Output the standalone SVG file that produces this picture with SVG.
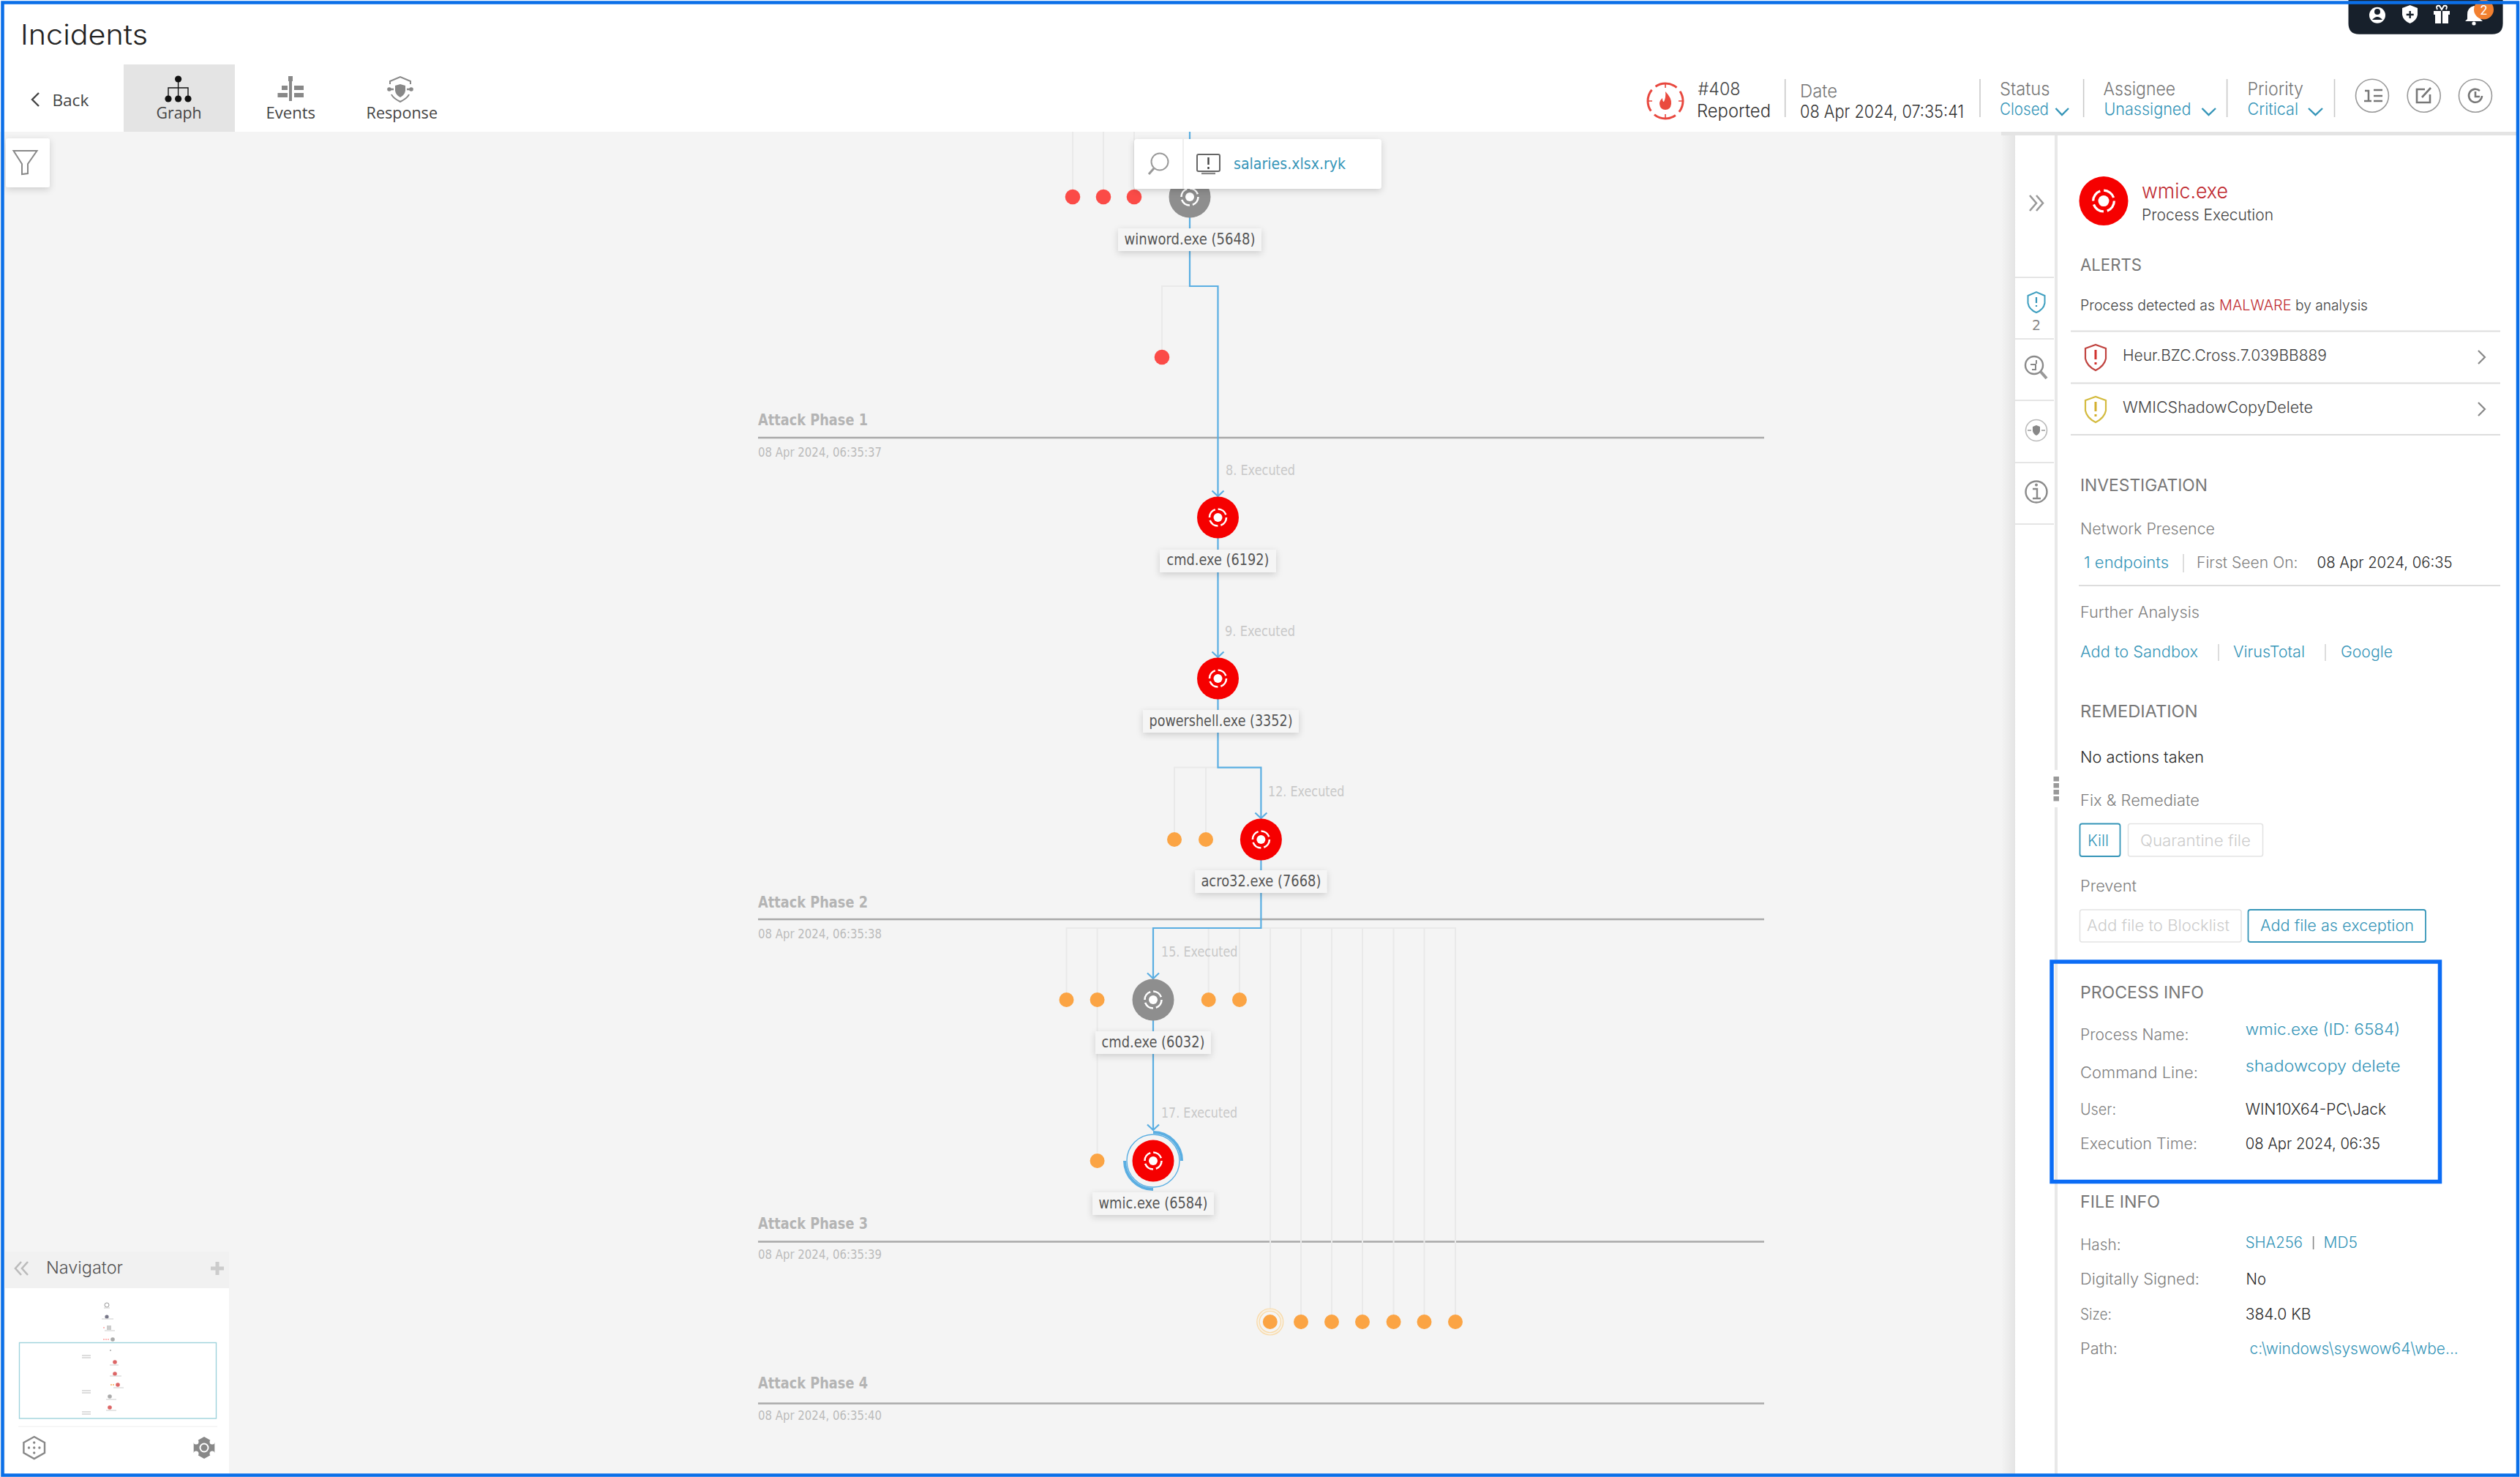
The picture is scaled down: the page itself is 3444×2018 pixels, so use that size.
<svg xmlns="http://www.w3.org/2000/svg" xmlns:xlink="http://www.w3.org/1999/xlink" width="3444" height="2018" viewBox="0 0 3444 2018">
<style>
text{font-family:"Inter","Open Sans","Liberation Sans",sans-serif;font-weight:300;fill:#333;font-size:21px}
.g{font-family:"DejaVu Sans","Liberation Sans",sans-serif;font-weight:400}
.nl{fill:#555;font-size:22px;text-anchor:middle}
.ex{fill:#c8c8c8;font-size:20px}
.ph{fill:#b4b4b4;font-size:21px;font-weight:700}
.dt{fill:#bbb;font-size:18px}
.h{fill:#777;font-size:23px;font-weight:400}
.k{fill:#808080;font-size:21px}
.v{fill:#2a2a2a;font-size:21px}
.a{fill:#3595b8;font-size:22px}
.tab{fill:#444;font-size:22px;font-weight:400;font-family:"Open Sans",sans-serif}
.blue{fill:none;stroke:#5aaee2;stroke-width:2.2}
.grey{fill:none;stroke:#e9e9e9;stroke-width:2}
.phl{stroke:#a9a9a9;stroke-width:2.4}
.lbox{fill:#f5f5f5;filter:url(#sh)}
.dr{fill:#fb4b47}
.do{fill:#fba444}
.sep{stroke:#ddd;stroke-width:2}
.vd{stroke:#c9c9c9;stroke-width:1.6}
.ico{fill:none;stroke:#8a8a8a;stroke-width:2.4}
.ifill{fill:#8a8a8a}
.chev{fill:none;stroke:#3595b8;stroke-width:2.4}
</style>
<defs>
<filter id="sh" x="-20%" y="-40%" width="140%" height="190%"><feDropShadow dx="0" dy="3" stdDeviation="5" flood-color="#000" flood-opacity="0.16"/></filter>
<marker id="arr" markerUnits="userSpaceOnUse" markerWidth="10" markerHeight="18" refX="8" refY="9" orient="auto" overflow="visible"><path d="M0.5,1 L8,9 L0.5,17" fill="none" stroke="#5aaee2" stroke-width="2.2"/></marker>
<linearGradient id="ps" x1="0" x2="1" y1="0" y2="0"><stop offset="0" stop-color="#f4f4f4"/><stop offset="1" stop-color="#e4e4e4"/></linearGradient>
<g id="proc">
<circle r="6" fill="#fff"/>
<circle r="11.5" fill="none" stroke="#fff" stroke-width="2.6" stroke-dasharray="14 4"/>
</g>
</defs>

<rect id="page" width="3444" height="2018" fill="#fff"/>
<rect id="canvas" x="0" y="180" width="2754" height="1838" fill="#f4f4f4"/>

<g id="header">
<text x="28" y="61" textLength="174" lengthAdjust="spacingAndGlyphs" style="font-size:38px;fill:#222">Incidents</text>
<path d="M53,127 L44,136 L53,145" fill="none" stroke="#444" stroke-width="2.4"/>
<text class="tab" x="71.4" y="145" textLength="50" lengthAdjust="spacingAndGlyphs">Back</text>
<rect x="169" y="88" width="152" height="92" fill="#e4e4e4"/>
<g id="tab-graph-icon" fill="#111">
<circle cx="243.6" cy="108" r="4.6"/><circle cx="230" cy="135" r="4.6"/><circle cx="243.6" cy="135" r="4.6"/><circle cx="257" cy="135" r="4.6"/>
<path d="M243.6,108V135M230,135V120H257V135" fill="none" stroke="#111" stroke-width="1.4"/>
</g>
<text class="tab" x="213.6" y="161.7" textLength="62" lengthAdjust="spacingAndGlyphs">Graph</text>
<g id="tab-events-icon" fill="#888">
<rect x="395" y="104" width="4" height="34"/><rect x="394" y="104" width="6" height="7"/>
<rect x="385" y="117" width="8" height="6"/><rect x="402" y="117" width="13" height="6"/>
<rect x="379.5" y="127" width="13.5" height="6"/><rect x="402" y="127" width="13" height="6"/>
</g>
<text class="tab" x="363.5" y="161.7" textLength="67.5" lengthAdjust="spacingAndGlyphs">Events</text>
<g id="tab-response-icon">
<path d="M533,115V111L547,105L561,111V115M535,129Q537,134 547,139Q557,134 559,129" fill="none" stroke="#888" stroke-width="2"/>
<path d="M540,117L547,115L554,117V124Q553,130 547,133Q541,130 540,124Z" fill="#888"/>
<path d="M531,122H538M556,122H563" stroke="#888" stroke-width="2.4"/>
<circle cx="532" cy="122" r="2.8" fill="#888"/><circle cx="562" cy="122" r="2.8" fill="#888"/>
</g>
<text class="tab" x="500.6" y="161.7" textLength="97.4" lengthAdjust="spacingAndGlyphs">Response</text>

<g id="tray">
<path d="M3209.5,0H3420.6V32Q3420.6,46.7 3406,46.7H3224Q3209.5,46.7 3209.5,32Z" fill="#17202b"/>
<circle cx="3249" cy="20.7" r="11" fill="#fff"/><circle cx="3249" cy="16" r="4" fill="#17202b"/><path d="M3242,27Q3249,19 3256,27" fill="#17202b"/>
<path d="M3283,11L3293.7,7L3304,11V20Q3303,28 3293.7,32Q3284,28 3283,20Z" fill="#fff"/><path d="M3293.7,15V25M3288.7,20H3298.7" stroke="#17202b" stroke-width="2.4"/>
<path d="M3326,15H3348V20H3346V32H3328V20H3326Z" fill="#fff"/><path d="M3337,12V32" stroke="#17202b" stroke-width="2"/><path d="M3331,13Q3328,7 3334,8L3337,13L3340,8Q3346,7 3343,13" fill="none" stroke="#fff" stroke-width="2"/>
<path d="M3381,8Q3372,10 3372,20V26L3369,29H3393L3390,26V20Q3390,10 3381,8Z" fill="#fff"/><circle cx="3381" cy="32" r="2.6" fill="#fff"/>
<circle cx="3394.5" cy="13" r="13.5" fill="#f28030"/>
<text x="3394.5" y="20" text-anchor="middle" style="fill:#fff;font-size:17px;font-weight:400">2</text>
</g>

<g id="incident-summary">
<circle cx="2276" cy="138" r="24" fill="none" stroke="#e8483f" stroke-width="3" stroke-dasharray="31 6.7" stroke-dashoffset="15"/>
<path d="M2252,138h6M2294,138h6M2276,114v6M2276,156v6" stroke="#e8483f" stroke-width="1.6"/>
<path d="M2276,125Q2285,134 2284,142Q2283,150 2276,150Q2269,150 2268,142Q2268,137 2272,134Q2272,139 2274,139Q2277,133 2276,125Z" fill="#ea4a3e"/>
<text x="2320.6" y="130" textLength="58" lengthAdjust="spacingAndGlyphs" style="fill:#444;font-size:24px">#408</text>
<text x="2319" y="160" textLength="101" lengthAdjust="spacingAndGlyphs" style="fill:#333;font-size:24px">Reported</text>
<line class="vd" x1="2439.7" y1="108" x2="2439.7" y2="160"/>
<text x="2460" y="132.7" textLength="51" lengthAdjust="spacingAndGlyphs" style="fill:#777;font-size:24px">Date</text>
<text x="2460" y="160.7" textLength="224" lengthAdjust="spacingAndGlyphs" style="fill:#333;font-size:24px">08 Apr 2024, 07:35:41</text>
<line class="vd" x1="2706" y1="108" x2="2706" y2="160"/>
<text x="2733" y="130" textLength="68.6" lengthAdjust="spacingAndGlyphs" style="fill:#777;font-size:24px">Status</text>
<text x="2733" y="156.7" textLength="67" lengthAdjust="spacingAndGlyphs" style="fill:#3595b8;font-size:23px">Closed</text>
<path class="chev" d="M2809.5,148L2818,157L2827,148"/>
<line class="vd" x1="2847.6" y1="108" x2="2847.6" y2="160"/>
<text x="2874.6" y="130" textLength="98.4" lengthAdjust="spacingAndGlyphs" style="fill:#777;font-size:24px">Assignee</text>
<text x="2875.4" y="156.7" textLength="119" lengthAdjust="spacingAndGlyphs" style="fill:#3595b8;font-size:23px">Unassigned</text>
<path class="chev" d="M3009.5,148L3018.5,157L3028,148"/>
<line class="vd" x1="3043.6" y1="108" x2="3043.6" y2="160"/>
<text x="3071.4" y="130" textLength="76.6" lengthAdjust="spacingAndGlyphs" style="fill:#777;font-size:24px">Priority</text>
<text x="3071.4" y="156.7" textLength="69.6" lengthAdjust="spacingAndGlyphs" style="fill:#3595b8;font-size:23px">Critical</text>
<path class="chev" d="M3155,148L3164.5,157L3174,148"/>
<line class="vd" x1="3190.5" y1="108" x2="3190.5" y2="160"/>
<circle cx="3242" cy="130.7" r="22.5" fill="#fff" stroke="#999" stroke-width="1.6"/>
<path d="M3232,124h5v13M3231,138h10M3244,123h12M3244,131h12M3244,138h12" fill="none" stroke="#777" stroke-width="2.6"/>
<circle cx="3312.7" cy="130.7" r="22.5" fill="#fff" stroke="#999" stroke-width="1.6"/>
<path d="M3314,122h-11v18h18v-11M3310,133l12,-13" fill="none" stroke="#777" stroke-width="2.6"/>
<circle cx="3383" cy="130.7" r="22.5" fill="#fff" stroke="#999" stroke-width="1.6"/>
<path d="M3392,131a9,9 0 1 1 -3,-7M3383,125v7h6" fill="none" stroke="#777" stroke-width="2.6"/>
</g>
</g>

<g id="filter-button">
<rect x="8" y="189" width="60" height="67" rx="3" fill="#fff" filter="url(#sh)"/>
<path d="M18.5,206H50.5L38,224V237L30,238V224Z" fill="none" stroke="#888" stroke-width="2"/>
</g>

<g id="phases">
<text class="g ph" x="1036" y="581" textLength="150" lengthAdjust="spacingAndGlyphs">Attack Phase 1</text>
<line class="phl" x1="1036" y1="598" x2="2411" y2="598"/>
<text class="g dt" x="1036" y="624" textLength="169" lengthAdjust="spacingAndGlyphs">08 Apr 2024, 06:35:37</text>
<text class="g ph" x="1036" y="1240" textLength="150" lengthAdjust="spacingAndGlyphs">Attack Phase 2</text>
<line class="phl" x1="1036" y1="1256" x2="2411" y2="1256"/>
<text class="g dt" x="1036" y="1282" textLength="169" lengthAdjust="spacingAndGlyphs">08 Apr 2024, 06:35:38</text>
<text class="g ph" x="1036" y="1679" textLength="150" lengthAdjust="spacingAndGlyphs">Attack Phase 3</text>
<line class="phl" x1="1036" y1="1696.5" x2="2411" y2="1696.5"/>
<text class="g dt" x="1036" y="1720" textLength="169" lengthAdjust="spacingAndGlyphs">08 Apr 2024, 06:35:39</text>
<text class="g ph" x="1036" y="1897" textLength="150" lengthAdjust="spacingAndGlyphs">Attack Phase 4</text>
<line class="phl" x1="1036" y1="1917.5" x2="2411" y2="1917.5"/>
<text class="g dt" x="1036" y="1940" textLength="169" lengthAdjust="spacingAndGlyphs">08 Apr 2024, 06:35:40</text>
</g>

<g id="connectors">
<path class="grey" d="M1466,180V259M1508,180V259M1550,180V259"/>
<path class="grey" d="M1626,391H1588V478"/>
<path class="grey" d="M1664.5,1048.6H1605V1137M1648,1048.6V1137"/>
<path class="grey" d="M1576,1268H1457.5V1356M1499.6,1268V1575M1576,1268H1989V1796M1651.7,1268V1356M1694,1268V1356M1736,1268V1796M1778,1268V1796M1820,1268V1796M1862,1268V1796M1904.6,1268V1796M1946.5,1268V1796"/>
<path class="blue" marker-end="url(#arr)" d="M1626,180V391H1664.5V678"/>
<path class="blue" marker-end="url(#arr)" d="M1664.5,707V898"/>
<path class="blue" marker-end="url(#arr)" d="M1664.5,927V1048.6H1723.4V1118"/>
<path class="blue" marker-end="url(#arr)" d="M1723.4,1147V1268H1576V1337"/>
<path class="blue" marker-end="url(#arr)" d="M1576,1366V1544"/>
</g>

<g id="edge-labels">
<text class="g ex" x="1675" y="649" textLength="95" lengthAdjust="spacingAndGlyphs">8. Executed</text>
<text class="g ex" x="1674" y="868.5" textLength="96" lengthAdjust="spacingAndGlyphs">9. Executed</text>
<text class="g ex" x="1733" y="1087.5" textLength="104.5" lengthAdjust="spacingAndGlyphs">12. Executed</text>
<text class="g ex" x="1587" y="1306.5" textLength="104.5" lengthAdjust="spacingAndGlyphs">15. Executed</text>
<text class="g ex" x="1587" y="1527" textLength="104" lengthAdjust="spacingAndGlyphs">17. Executed</text>
</g>

<g id="dots-red" class="dr">
<circle cx="1466" cy="269" r="10.3"/><circle cx="1508" cy="269" r="10.3"/><circle cx="1550" cy="269" r="10.3"/><circle cx="1588" cy="488" r="10.3"/>
</g>
<g id="dots-orange" class="do">
<circle cx="1605" cy="1147" r="10"/><circle cx="1648" cy="1147" r="10"/>
<circle cx="1457.5" cy="1366" r="10"/><circle cx="1499.6" cy="1366" r="10"/><circle cx="1651.7" cy="1366" r="10"/><circle cx="1694" cy="1366" r="10"/>
<circle cx="1499.6" cy="1586" r="10"/>
<circle cx="1778" cy="1806" r="10"/><circle cx="1820" cy="1806" r="10"/><circle cx="1862" cy="1806" r="10"/><circle cx="1904.6" cy="1806" r="10"/><circle cx="1946.5" cy="1806" r="10"/><circle cx="1989" cy="1806" r="10"/>
</g>
<g id="dot-selected">
<circle cx="1735.8" cy="1806" r="18" fill="#f8f0e2" stroke="#f9d9a6" stroke-width="1.2"/>
<circle cx="1735.8" cy="1806" r="14.5" fill="#f5f5f5" stroke="#f9d9a6" stroke-width="1.2"/>
<circle cx="1735.8" cy="1806" r="10" fill="#fba444"/>
</g>

<g id="node-winword">
<circle cx="1626" cy="269" r="28.5" fill="#8e8e8e"/><use href="#proc" x="1626" y="269"/>
<rect class="lbox" x="1528" y="312" width="196" height="31"/>
<text class="g nl" x="1626" y="333.5" textLength="179" lengthAdjust="spacingAndGlyphs">winword.exe (5648)</text>
</g>
<g id="node-cmd-6192">
<circle cx="1664.5" cy="707" r="28.5" fill="#f60000"/><use href="#proc" x="1664.5" y="707"/>
<rect class="lbox" x="1585" y="751" width="159" height="31"/>
<text class="g nl" x="1664.5" y="772" textLength="140" lengthAdjust="spacingAndGlyphs">cmd.exe (6192)</text>
</g>
<g id="node-powershell">
<circle cx="1664.5" cy="927" r="28.5" fill="#f60000"/><use href="#proc" x="1664.5" y="927"/>
<rect class="lbox" x="1562" y="970" width="213" height="31"/>
<text class="g nl" x="1668.5" y="991.5" textLength="196" lengthAdjust="spacingAndGlyphs">powershell.exe (3352)</text>
</g>
<g id="node-acro32">
<circle cx="1723.4" cy="1147" r="28.5" fill="#f60000"/><use href="#proc" x="1723.4" y="1147"/>
<rect class="lbox" x="1633.4" y="1189" width="180" height="31"/>
<text class="g nl" x="1723.4" y="1211" textLength="164" lengthAdjust="spacingAndGlyphs">acro32.exe (7668)</text>
</g>
<g id="node-cmd-6032">
<circle cx="1576" cy="1366" r="28.5" fill="#8e8e8e"/><use href="#proc" x="1576" y="1366"/>
<rect class="lbox" x="1497" y="1409" width="158" height="31"/>
<text class="g nl" x="1576" y="1430.5" textLength="141" lengthAdjust="spacingAndGlyphs">cmd.exe (6032)</text>
</g>
<g id="node-wmic">
<circle cx="1576" cy="1586" r="36" fill="none" stroke="#5aaee2" stroke-width="1.4"/>
<path d="M1576,1547A39,39 0 0 1 1615,1586M1576,1625A39,39 0 0 1 1537,1586" fill="none" stroke="#5aaee2" stroke-width="4"/>
<circle cx="1576" cy="1586" r="28.5" fill="#f60000"/><use href="#proc" x="1576" y="1586"/>
<rect class="lbox" x="1493" y="1629" width="166" height="31"/>
<text class="g nl" x="1576" y="1650.5" textLength="149" lengthAdjust="spacingAndGlyphs">wmic.exe (6584)</text>
</g>

<g id="search-popup">
<rect x="1550" y="190" width="338" height="68" rx="4" fill="#fff" filter="url(#sh)"/>
<line x1="1617" y1="190" x2="1617" y2="258" stroke="#eee" stroke-width="2"/>
<circle cx="1585" cy="221" r="11.5" fill="none" stroke="#999" stroke-width="2"/>
<path d="M1577,230L1570,238" stroke="#999" stroke-width="3"/>
<rect x="1636" y="211" width="31" height="23" rx="2" fill="none" stroke="#666" stroke-width="2"/>
<path d="M1642,237H1661" stroke="#888" stroke-width="2.4"/>
<path d="M1651.5,215V225M1651.5,228V231" stroke="#444" stroke-width="2.4"/>
<text class="g" x="1686" y="231" textLength="153" lengthAdjust="spacingAndGlyphs" style="fill:#3595b8;font-size:22px">salaries.xlsx.ryk</text>
</g>

<g id="navigator">
<rect x="7" y="1710" width="306" height="50" fill="#f1f1f1"/>
<rect x="7" y="1760" width="306" height="254" fill="#fff"/>
<path d="M29,1724L21,1733L29,1742M38,1724L30,1733L38,1742" fill="none" stroke="#bbb" stroke-width="2.6"/>
<text x="63" y="1740" textLength="105" lengthAdjust="spacingAndGlyphs" style="fill:#555;font-size:23px;font-weight:300">Navigator</text>
<path d="M297,1724V1742M288,1733H306" stroke="#ccc" stroke-width="5"/>
<g id="mini-graph">
<circle cx="146" cy="1783" r="3" fill="#fff" stroke="#999" stroke-width="1"/>
<circle cx="146" cy="1799" r="2.6" fill="#778"/>
<rect x="146" y="1811" width="6" height="6" fill="#ccc"/><circle cx="142" cy="1814" r="0.9" fill="#f99"/>
<circle cx="154" cy="1830" r="2.8" fill="#aaa"/><circle cx="142" cy="1830" r="0.9" fill="#f99"/><circle cx="145" cy="1830" r="0.9" fill="#f99"/><circle cx="148" cy="1830" r="0.9" fill="#f99"/>
<circle cx="151" cy="1845" r="1" fill="#aaa"/>
<circle cx="157" cy="1861" r="2.8" fill="#d66"/><circle cx="157" cy="1877" r="2.8" fill="#d66"/><circle cx="161" cy="1892" r="2.8" fill="#d66"/>
<circle cx="150" cy="1908" r="2.8" fill="#aaa"/><circle cx="150" cy="1923" r="2.8" fill="#d66"/>
<path d="M142,1787h8M139,1802h16M143,1818h14M150,1865h12M150,1880h16M155,1896h14M145,1912h14M145,1927h14" stroke="#ccc" stroke-width="1"/>
<path d="M112,1852h12M112,1855h12M112,1900h12M112,1903h12M112,1929h12M112,1932h12" stroke="#bbb" stroke-width="1"/>
<circle cx="155" cy="1892" r="0.9" fill="#fba444"/><circle cx="152" cy="1892" r="0.9" fill="#fba444"/>
</g>
<rect x="26.5" y="1834.5" width="269" height="103.5" fill="none" stroke="#9fd3dc" stroke-width="1.4"/>
<line x1="25" y1="1949" x2="297" y2="1949" stroke="#f3f3f3" stroke-width="1.5"/>
<path d="M46.7,1963L61,1971V1985L46.7,1993L32.4,1985V1971Z" fill="#fff" stroke="#888" stroke-width="2.4"/>
<path d="M46.7,1971v.1M46.7,1978v.1M46.7,1985v.1M39.5,1978v.1M53.9,1978v.1" stroke="#888" stroke-width="3.4" stroke-linecap="round"/>
<path d="M279,1963L293.3,1971V1985L279,1993L264.7,1985V1971Z" fill="#888"/>
<circle cx="279" cy="1978" r="6.5" fill="#fff"/><circle cx="279" cy="1978" r="4.5" fill="#888"/>
<circle cx="268" cy="1970" r="3.5" fill="#fff"/><circle cx="290" cy="1970" r="3.5" fill="#fff"/><circle cx="268" cy="1986" r="3.5" fill="#fff"/><circle cx="290" cy="1986" r="3.5" fill="#fff"/>
</g>

<g id="panel">
<rect x="2735" y="180" width="19" height="1834" fill="url(#ps)"/>
<rect x="2735" y="180" width="705" height="5" fill="#e4e4e4"/>
<rect x="2754" y="185" width="686" height="1829" fill="#fff"/>
<rect x="2808" y="185" width="4" height="867" fill="#e8e8e8"/>
<rect x="2808" y="1103" width="4" height="911" fill="#e8e8e8"/>
<path d="M2754,379H2807M2754,463H2807M2754,547H2807M2754,632H2807M2754,716H2807" stroke="#ddd" stroke-width="1.6"/>
<g id="side-icons">
<path d="M2774,267L2783,277.5L2774,288M2783,267L2792,277.5L2783,288" fill="none" stroke="#999" stroke-width="2.6"/>
<path d="M2771.5,404L2783,399L2794.5,404V414Q2793,423 2783,427Q2773,423 2771.5,414Z" fill="none" stroke="#3e9fc0" stroke-width="2"/>
<path d="M2783,406V414M2783,417V419" stroke="#3595b8" stroke-width="2.2"/>
<text class="g" x="2783" y="451" text-anchor="middle" style="fill:#888;font-size:19px">2</text>
<circle cx="2780" cy="499" r="12" class="ico"/>
<path d="M2789,508L2797,517" stroke="#999" stroke-width="4"/>
<path d="M2783,492V497M2775,498H2782V505H2777" fill="none" stroke="#888" stroke-width="2"/>
<circle cx="2783" cy="588" r="14.5" fill="none" stroke="#bbb" stroke-width="1.6"/>
<path d="M2778,583L2783,581L2788,583V589Q2787,593 2783,595Q2779,593 2778,589Z" fill="#888"/>
<path d="M2771,588H2776M2790,588H2795" stroke="#999" stroke-width="1.6"/>
<circle cx="2783" cy="672" r="14.5" class="ico"/>
<path d="M2778,668H2784V681M2778,681H2789" fill="none" stroke="#8a8a8a" stroke-width="2.4"/><circle cx="2783" cy="662.5" r="2" class="ifill"/>
</g>
<g id="grip" fill="#999">
<rect x="2806.5" y="1061" width="7.5" height="6.5"/><rect x="2806.5" y="1070" width="7.5" height="6.5"/><rect x="2806.5" y="1079" width="7.5" height="6.5"/><rect x="2806.5" y="1088" width="7.5" height="6.5"/>
</g>
<g id="panel-head">
<circle cx="2875" cy="274.6" r="33.5" fill="#f60000"/><use href="#proc" transform="translate(2875 274.6) scale(1.25)"/>
<text x="2927" y="271" textLength="118" lengthAdjust="spacingAndGlyphs" style="fill:#c02a30;font-size:28px">wmic.exe</text>
<text x="2927" y="301" textLength="180" lengthAdjust="spacingAndGlyphs" style="font-size:22px;fill:#444">Process Execution</text>
</g>
<g id="alerts">
<text class="h" x="2843" y="370" textLength="84" lengthAdjust="spacingAndGlyphs">ALERTS</text>
<text x="2843" y="424" textLength="184" lengthAdjust="spacingAndGlyphs" style="font-size:20px;fill:#444">Process detected as</text>
<text x="3033" y="424" textLength="98.5" lengthAdjust="spacingAndGlyphs" style="font-size:20px;fill:#c02a30">MALWARE</text>
<text x="3137" y="424" textLength="99" lengthAdjust="spacingAndGlyphs" style="font-size:20px;fill:#444">by analysis</text>
<line class="sep" x1="2830" y1="452.5" x2="3417" y2="452.5"/>
<path d="M2850,476L2864,471L2878,476V490Q2876,500 2864,506Q2852,500 2850,490Z" fill="none" stroke="#c0433f" stroke-width="2.2"/>
<path d="M2864,478V491M2864,495V498" stroke="#d1332f" stroke-width="3"/>
<text x="2901" y="493" textLength="279" lengthAdjust="spacingAndGlyphs" style="font-size:22px;fill:#444">Heur.BZC.Cross.7.039BB889</text>
<path d="M3387,479L3396,488L3387,497" fill="none" stroke="#888" stroke-width="2.2"/>
<line class="sep" x1="2830" y1="523.6" x2="3417" y2="523.6"/>
<path d="M2850,547L2864,542L2878,547V561Q2876,571 2864,577Q2852,571 2850,561Z" fill="none" stroke="#d4bb3f" stroke-width="2.2"/>
<path d="M2864,549V562M2864,566V569" stroke="#d4b02f" stroke-width="3"/>
<text x="2901" y="564" textLength="260" lengthAdjust="spacingAndGlyphs" style="font-size:22px;fill:#444">WMICShadowCopyDelete</text>
<path d="M3387,550L3396,559L3387,568" fill="none" stroke="#888" stroke-width="2.2"/>
<line class="sep" x1="2830" y1="594" x2="3417" y2="594"/>
</g>
<g id="investigation">
<text class="h" x="2843" y="671" textLength="174" lengthAdjust="spacingAndGlyphs">INVESTIGATION</text>
<text class="k" x="2843" y="730" textLength="184" lengthAdjust="spacingAndGlyphs">Network Presence</text>
<text class="a" x="2848" y="776" textLength="116" lengthAdjust="spacingAndGlyphs">1 endpoints</text>
<line class="sep" x1="2984" y1="757" x2="2984" y2="782"/>
<text class="k" x="3002" y="776" textLength="138.5" lengthAdjust="spacingAndGlyphs">First Seen On:</text>
<text class="v" x="3166.6" y="776" textLength="185" lengthAdjust="spacingAndGlyphs">08 Apr 2024, 06:35</text>
<line class="sep" x1="2841" y1="800" x2="3417" y2="800"/>
<text class="k" x="2843" y="844" textLength="163" lengthAdjust="spacingAndGlyphs">Further Analysis</text>
<text class="a" x="2843" y="897.5" textLength="161" lengthAdjust="spacingAndGlyphs">Add to Sandbox</text>
<line class="sep" x1="3032" y1="880" x2="3032" y2="903"/>
<text class="a" x="3052" y="897.5" textLength="98" lengthAdjust="spacingAndGlyphs">VirusTotal</text>
<line class="sep" x1="3178" y1="880" x2="3178" y2="903"/>
<text class="a" x="3199" y="897.5" textLength="71" lengthAdjust="spacingAndGlyphs">Google</text>
</g>
<g id="remediation">
<text class="h" x="2843" y="979.6" textLength="160.6" lengthAdjust="spacingAndGlyphs">REMEDIATION</text>
<text x="2843" y="1042" textLength="169" lengthAdjust="spacingAndGlyphs" style="font-size:21px;fill:#2a2a2a">No actions taken</text>
<text class="k" x="2843" y="1101" textLength="163" lengthAdjust="spacingAndGlyphs">Fix &amp; Remediate</text>
<rect x="2842.5" y="1125.5" width="55" height="44.5" rx="3" fill="#fff" stroke="#3595b8" stroke-width="1.8"/>
<text class="a" x="2853" y="1156" textLength="29" lengthAdjust="spacingAndGlyphs" style="font-size:21px">Kill</text>
<rect x="2908.5" y="1125.5" width="184" height="44.5" rx="3" fill="#fff" stroke="#e3e3e3" stroke-width="1.6"/>
<text x="2925" y="1156" textLength="151" lengthAdjust="spacingAndGlyphs" style="font-size:21px;fill:#ccc">Quarantine file</text>
<text class="k" x="2843" y="1218" textLength="77" lengthAdjust="spacingAndGlyphs">Prevent</text>
<rect x="2842.5" y="1243" width="220.5" height="44" rx="3" fill="#fff" stroke="#e3e3e3" stroke-width="1.6"/>
<text x="2852" y="1272" textLength="195" lengthAdjust="spacingAndGlyphs" style="font-size:21px;fill:#ccc">Add file to Blocklist</text>
<rect x="3072.5" y="1243" width="242.5" height="44" rx="3" fill="#fff" stroke="#3595b8" stroke-width="1.8"/>
<text class="a" x="3089" y="1272" textLength="210" lengthAdjust="spacingAndGlyphs" style="font-size:21px">Add file as exception</text>
</g>
<g id="process-info">
<text class="h" x="2843" y="1363.6" textLength="169" lengthAdjust="spacingAndGlyphs">PROCESS INFO</text>
<text class="k" x="2843" y="1421" textLength="148.5" lengthAdjust="spacingAndGlyphs">Process Name:</text>
<text class="a" x="3068.7" y="1413.6" textLength="211.5" lengthAdjust="spacingAndGlyphs">wmic.exe (ID: 6584)</text>
<text class="k" x="2843" y="1472.5" textLength="161" lengthAdjust="spacingAndGlyphs">Command Line:</text>
<text class="a" x="3068.7" y="1464" textLength="212" lengthAdjust="spacingAndGlyphs">shadowcopy delete</text>
<text class="k" x="2843" y="1523" textLength="49" lengthAdjust="spacingAndGlyphs">User:</text>
<text class="v" x="3068.7" y="1523" textLength="192.3" lengthAdjust="spacingAndGlyphs">WIN10X64-PC\Jack</text>
<text class="k" x="2843" y="1570" textLength="160" lengthAdjust="spacingAndGlyphs">Execution Time:</text>
<text class="v" x="3068.7" y="1570" textLength="184.3" lengthAdjust="spacingAndGlyphs">08 Apr 2024, 06:35</text>
</g>
<g id="file-info">
<text class="h" x="2843" y="1650" textLength="109" lengthAdjust="spacingAndGlyphs">FILE INFO</text>
<text class="k" x="2843" y="1708" textLength="55.5" lengthAdjust="spacingAndGlyphs">Hash:</text>
<text class="a" x="3068.7" y="1705" textLength="78.3" lengthAdjust="spacingAndGlyphs" style="font-size:21px">SHA256</text>
<line x1="3161.6" y1="1689" x2="3161.6" y2="1707" stroke="#888" stroke-width="1.6"/>
<text class="a" x="3175.6" y="1705" textLength="46.4" lengthAdjust="spacingAndGlyphs" style="font-size:21px">MD5</text>
<text class="k" x="2843" y="1755" textLength="163" lengthAdjust="spacingAndGlyphs">Digitally Signed:</text>
<text class="v" x="3069.6" y="1755" textLength="27.4" lengthAdjust="spacingAndGlyphs">No</text>
<text class="k" x="2843" y="1802.5" textLength="43" lengthAdjust="spacingAndGlyphs">Size:</text>
<text class="v" x="3068.7" y="1802.5" textLength="89.8" lengthAdjust="spacingAndGlyphs">384.0 KB</text>
<text class="k" x="2843" y="1850" textLength="51" lengthAdjust="spacingAndGlyphs">Path:</text>
<text class="a" x="3074.5" y="1850" textLength="285.2" lengthAdjust="spacingAndGlyphs">c:\windows\syswow64\wbe...</text>
</g>
</g>

<rect id="highlight" x="2804" y="1314" width="530.5" height="300.5" fill="none" stroke="#0b6cf5" stroke-width="5.5"/>
<rect id="frame" x="3.5" y="3.5" width="3437.5" height="2012" fill="none" stroke="#0b6fe8" stroke-width="4.5"/>
</svg>
